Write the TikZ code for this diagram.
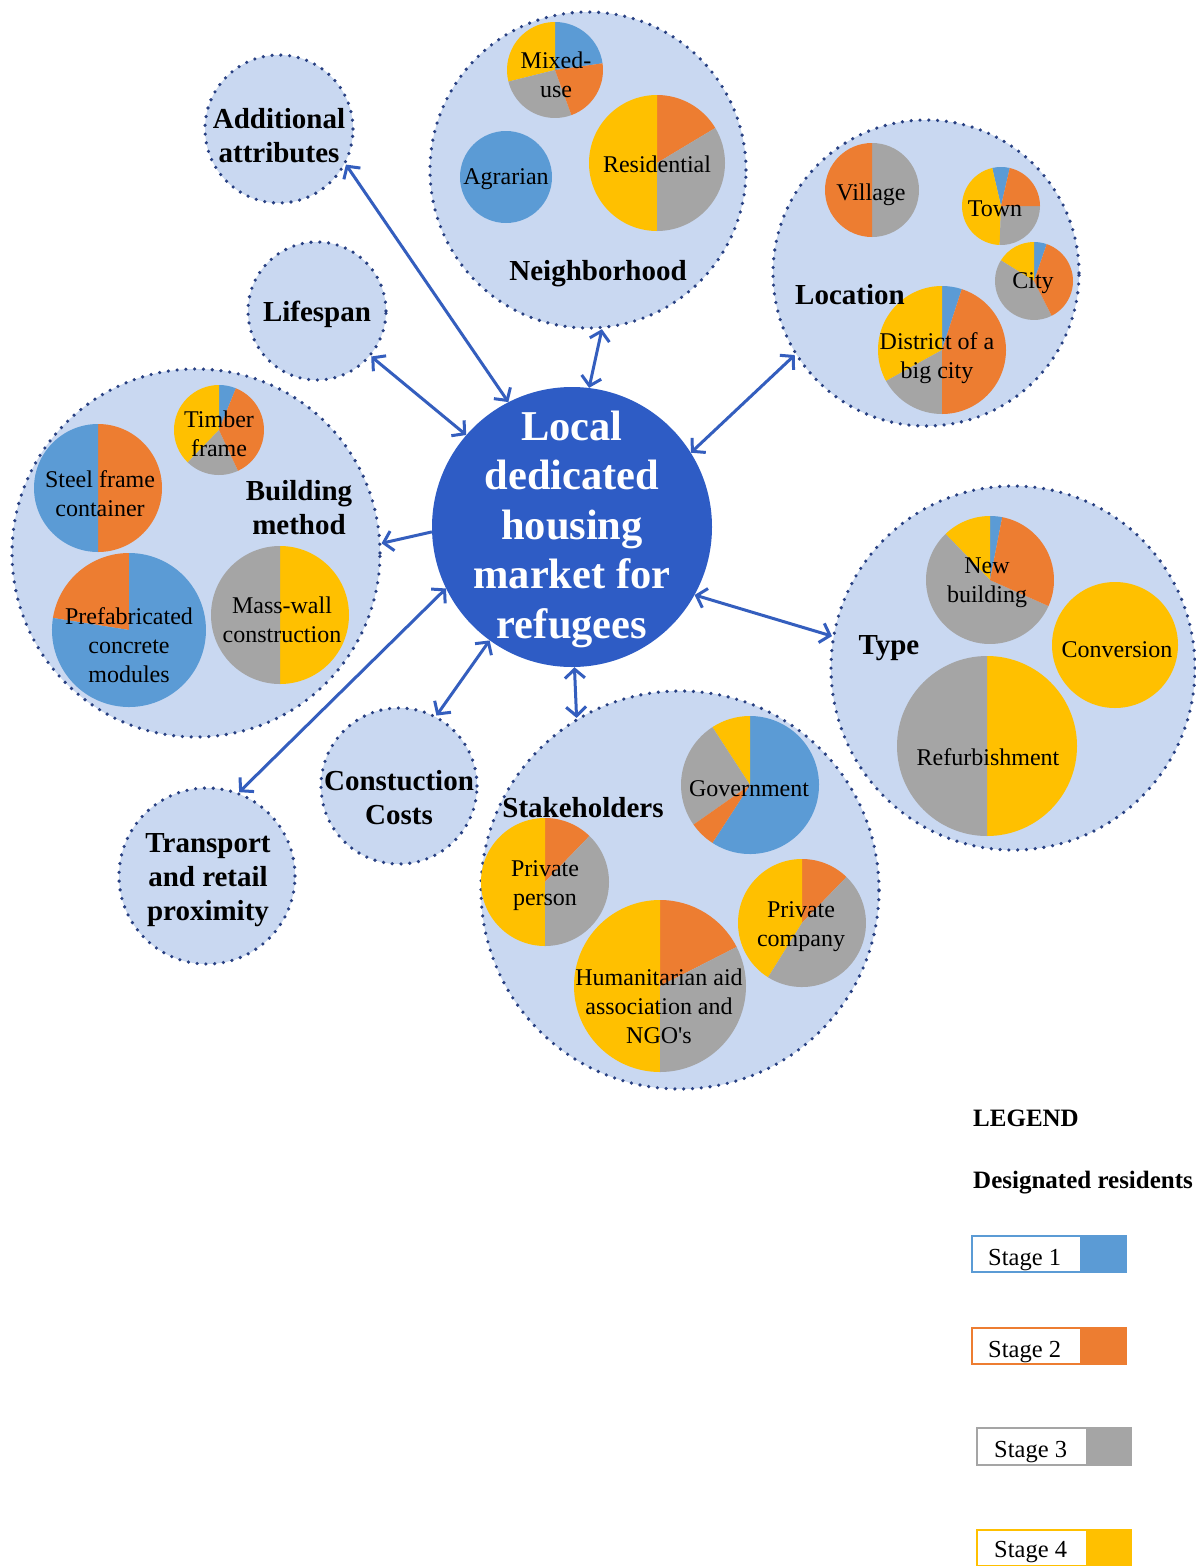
\documentclass[tikz,border=0pt]{standalone}
\usepackage{fontspec}
\setmainfont{Liberation Serif}
\usetikzlibrary{arrows.meta}

\definecolor{bubblefill}{RGB}{201,216,241}
\definecolor{dotblue}{RGB}{40,64,130}
\definecolor{hubblue}{RGB}{46,92,197}
\definecolor{linkblue}{RGB}{52,94,190}
\definecolor{sOne}{RGB}{91,155,213}
\definecolor{sTwo}{RGB}{237,125,49}
\definecolor{sThree}{RGB}{165,165,165}
\definecolor{sFour}{RGB}{255,192,0}

% wedge of a pie: centre x, centre y, radius, start angle, end angle, colour
\newcommand\pieSlice[6]{\fill[#6] (#1,#2) -- ++(#4:#3) arc[start angle=#4,end angle=#5,radius=#3pt] -- cycle;}

\begin{document}
\begin{tikzpicture}[x=1pt,y=1pt,
  bubble/.style={circle, inner sep=0pt, fill=bubblefill, draw=dotblue,
    line width=3.6pt, dash pattern=on 0pt off 8.8pt, line cap=round},
  hub/.style={circle, inner sep=0pt, fill=hubblue, minimum size=280pt},
  hubtext/.style={text=white, font=\fontsize{42.5}{49.5}\selectfont\bfseries, align=center, inner sep=0pt},
  cat/.style={font=\fontsize{29}{34}\selectfont\bfseries, align=center, inner sep=0pt, yshift=-3pt},
  item/.style={font=\fontsize{24}{29}\selectfont, align=center, inner sep=0pt, yshift=-2.5pt},
  barb/.tip={Straight Barb[length=9pt,width=20pt]},
  link/.style={draw=linkblue, line width=3pt, barb-barb},
  linkone/.style={draw=linkblue, line width=3pt, -barb},
  keytext/.style={font=\fontsize{24.5}{29}\selectfont, anchor=base west, inner sep=0pt},
  legendhead/.style={font=\fontsize{25}{30}\selectfont\bfseries, anchor=base west, inner sep=0pt}
]
\useasboundingbox (0,0) rectangle (1195,-1566);
\fill[white] (0,0) rectangle (1195,-1566);

% ---------- category bubbles ----------
\node[bubble, minimum size=316pt] (nbh)   at (588,-170) {};
\node[bubble, minimum size=306pt] (loc)   at (926,-273) {};
\node[bubble, minimum size=148pt] (add)   at (279,-129) {};
\node[bubble, minimum size=138pt] (life)  at (317,-311) {};
\node[bubble, minimum size=368pt] (bm)    at (196,-553) {};
\node[bubble, minimum size=364pt] (type)  at (1013,-668) {};
\node[bubble, minimum size=398pt] (stake) at (680,-890) {};
\node[bubble, minimum size=156pt] (cost)  at (399,-786) {};
\node[bubble, minimum size=176pt] (trans) at (207,-876) {};

% ---------- pies: Neighborhood ----------
\pieSlice{555}{-70}{48}{8}{90}{sOne}
\pieSlice{555}{-70}{48}{90}{194}{sFour}
\pieSlice{555}{-70}{48}{194}{290}{sThree}
\pieSlice{555}{-70}{48}{290}{368}{sTwo}
\pieSlice{657}{-163}{68}{31}{90}{sTwo}
\pieSlice{657}{-163}{68}{90}{270}{sFour}
\pieSlice{657}{-163}{68}{270}{391}{sThree}
\fill[sOne] (506,-177) circle[radius=46pt];

% ---------- pies: Location ----------
\pieSlice{872}{-190}{47}{-90}{90}{sThree}
\pieSlice{872}{-190}{47}{90}{270}{sTwo}
\pieSlice{1001}{-206}{39}{77}{103}{sOne}
\pieSlice{1001}{-206}{39}{103}{268}{sFour}
\pieSlice{1001}{-206}{39}{268}{360}{sThree}
\pieSlice{1001}{-206}{39}{0}{77}{sTwo}
\pieSlice{1034}{-281}{39}{71}{90}{sOne}
\pieSlice{1034}{-281}{39}{90}{148}{sFour}
\pieSlice{1034}{-281}{39}{148}{297}{sThree}
\pieSlice{1034}{-281}{39}{297}{431}{sTwo}
\pieSlice{942}{-350}{64}{72}{90}{sOne}
\pieSlice{942}{-350}{64}{90}{209}{sFour}
\pieSlice{942}{-350}{64}{209}{270}{sThree}
\pieSlice{942}{-350}{64}{270}{432}{sTwo}

% ---------- pies: Building method ----------
\pieSlice{219}{-430}{45}{68}{90}{sOne}
\pieSlice{219}{-430}{45}{90}{226}{sFour}
\pieSlice{219}{-430}{45}{226}{295}{sThree}
\pieSlice{219}{-430}{45}{295}{428}{sTwo}
\pieSlice{98}{-488}{64}{-90}{90}{sTwo}
\pieSlice{98}{-488}{64}{90}{270}{sOne}
\pieSlice{129}{-630}{77}{90}{171}{sTwo}
\pieSlice{129}{-630}{77}{171}{450}{sOne}
\pieSlice{280}{-615}{69}{-90}{90}{sFour}
\pieSlice{280}{-615}{69}{90}{270}{sThree}

% ---------- pies: Type ----------
\pieSlice{990}{-580}{64}{79}{90}{sOne}
\pieSlice{990}{-580}{64}{90}{134}{sFour}
\pieSlice{990}{-580}{64}{134}{336}{sThree}
\pieSlice{990}{-580}{64}{336}{439}{sTwo}
\fill[sFour] (1115,-645) circle[radius=63pt];
\pieSlice{987}{-746}{90}{-90}{90}{sFour}
\pieSlice{987}{-746}{90}{90}{270}{sThree}

% ---------- pies: Stakeholders ----------
\pieSlice{750}{-785}{69}{-123}{90}{sOne}
\pieSlice{750}{-785}{69}{90}{123}{sFour}
\pieSlice{750}{-785}{69}{123}{215}{sThree}
\pieSlice{750}{-785}{69}{215}{237}{sTwo}
\pieSlice{545}{-882}{64}{46}{90}{sTwo}
\pieSlice{545}{-882}{64}{90}{270}{sFour}
\pieSlice{545}{-882}{64}{270}{406}{sThree}
\pieSlice{660}{-986}{86}{27}{90}{sTwo}
\pieSlice{660}{-986}{86}{90}{270}{sFour}
\pieSlice{660}{-986}{86}{270}{387}{sThree}
\pieSlice{802}{-923}{64}{46}{90}{sTwo}
\pieSlice{802}{-923}{64}{90}{238}{sFour}
\pieSlice{802}{-923}{64}{238}{406}{sThree}

% ---------- hub ----------
\node[hub] (hubnode) at (572,-527) {};
\node[hubtext] (hubtxt) at (572,-529) {Local\\dedicated\\housing\\market for\\refugees};

% ---------- category labels ----------
\node[cat] (tNbh)   at (598,-271) {Neighborhood};
\node[cat] (tLoc)   at (850,-292) {Location};
\node[cat] (tAdd)   at (279,-133) {Additional\\attributes};
\node[cat] (tLife)  at (317,-311) {Lifespan};
\node[cat] (tBm)    at (299,-505) {Building\\method};
\node[cat] (tType)  at (889,-645) {Type};
\node[cat] (tStake) at (583,-805) {Stakeholders};
\node[cat] (tCost)  at (399,-795) {Constuction\\Costs};
\node[cat] (tTrans) at (208,-877) {Transport\\and retail\\proximity};

% ---------- pie labels ----------
\node[item] (iMixed)  at (556,-72)  {Mixed-\\use};
\node[item] (iRes)    at (657,-162) {Residential};
\node[item] (iAgr)    at (506,-177) {Agrarian};
\node[item] (iVil)    at (871,-192) {Village};
\node[item] (iTown)   at (995,-206) {Town};
\node[item] (iCity)   at (1033,-281) {City};
\node[item] (iDist)   at (937,-356) {District of a\\big city};
\node[item] (iTimber) at (219,-431) {Timber\\frame};
\node[item] (iSteel)  at (100,-491) {Steel frame\\container};
\node[item] (iPrefab) at (129,-643) {Prefabricated\\concrete\\modules};
\node[item] (iMass)   at (282,-617) {Mass-wall\\construction};
\node[item] (iNew)    at (987,-580) {New\\building};
\node[item] (iConv)   at (1117,-647) {Conversion};
\node[item] (iRefurb) at (988,-755) {Refurbishment};
\node[item] (iGov)    at (749,-786) {Government};
\node[item] (iPers)   at (545,-883) {Private\\person};
\node[item] (iComp)   at (801,-924) {Private\\company};
\node[item] (iHum)    at (659,-1004) {Humanitarian aid\\association and\\NGO\textquotesingle s};

% ---------- connectors ----------
\draw[link]    (hubnode.117) -- (add.-28);
\draw[link]    (hubnode.83)  -- (nbh.-85);
\draw[link]    (hubnode.32)  -- (loc.212);
\draw[link]    (hubnode.139) -- (life.-40);
\draw[linkone] (hubnode.182) -- (bm.3);
\draw[link]    (hubnode.206) -- (trans.69);
\draw[link]    (hubnode.234) -- (cost.62);
\draw[link]    (hubnode.-89) -- (stake.121);
\draw[link]    (hubnode.-29) -- (type.170.5);

% ---------- legend ----------
\node[legendhead] (lgTitle) at (973,-1126) {LEGEND};
\node[legendhead] (lgSub)   at (973,-1188) {Designated residents};

\draw[sOne, line width=1.5pt, fill=white] (972,-1236) rectangle (1126,-1272);
\fill[sOne] (1080,-1236) rectangle (1126,-1272);
\node[keytext] (k1) at (988,-1265) {Stage 1};

\draw[sTwo, line width=1.5pt, fill=white] (972,-1328) rectangle (1126,-1364);
\fill[sTwo] (1080,-1328) rectangle (1126,-1364);
\node[keytext] (k2) at (988,-1357) {Stage 2};

\draw[sThree, line width=1.5pt, fill=white] (977,-1428) rectangle (1131,-1465);
\fill[sThree] (1086,-1428) rectangle (1131,-1465);
\node[keytext] (k3) at (994,-1457) {Stage 3};

\draw[sFour, line width=1.5pt, fill=white] (977,-1530) rectangle (1131,-1566);
\fill[sFour] (1086,-1530) rectangle (1131,-1566);
\node[keytext] (k4) at (994,-1557) {Stage 4};
\end{tikzpicture}
\end{document}
